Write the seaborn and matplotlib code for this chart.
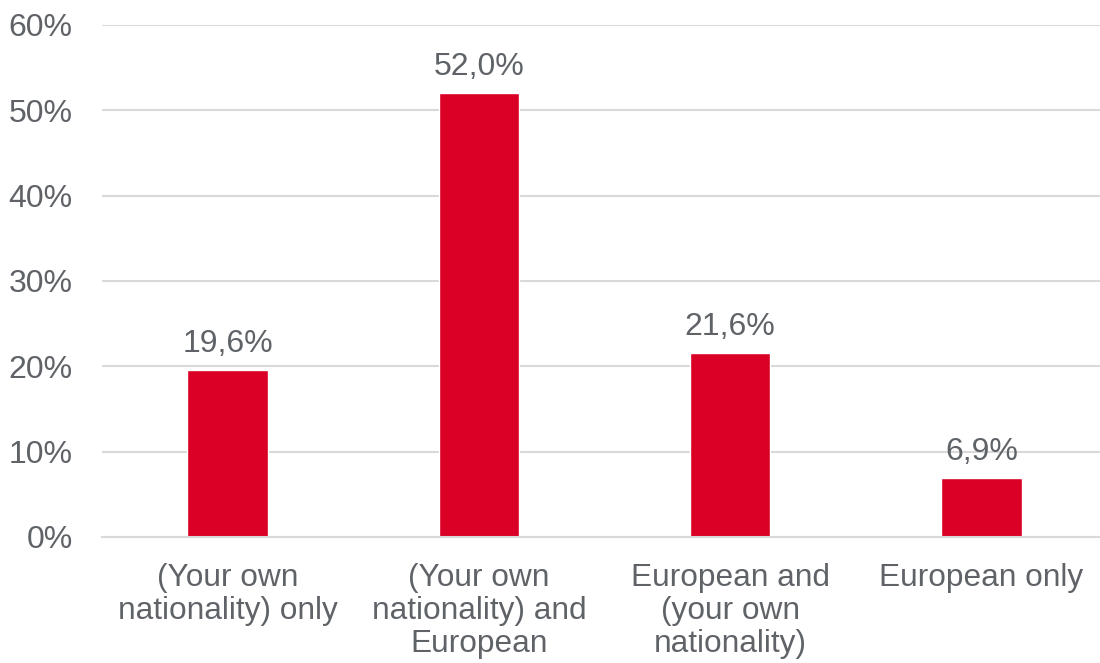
import matplotlib
matplotlib.use("Agg")
import matplotlib.pyplot as plt
import seaborn as sns
import pandas as pd
from matplotlib.ticker import FuncFormatter

categories = ["(Your own\nnationality) only", "(Your own\nnationality) and\nEuropean",
              "European and\n(your own\nnationality)", "European only"]
values = [19.6, 52.0, 21.6, 6.9]
yticks = [0, 10, 20, 30, 40, 50, 60]

sns.set_theme(style="white")
plt.rcParams['font.family'] = ['Liberation Sans', 'DejaVu Sans']

TXT = "#5f6368"
RED = "#da0026"

fig = plt.figure(figsize=(11, 6.63), dpi=100)
ax = fig.add_axes([102/1100, 1 - 537/663, 1 - 102/1100, (537 - 25)/663])

df = pd.DataFrame({"cat": categories, "val": values})
sns.barplot(data=df, x="cat", y="val", color=RED, saturation=1, width=0.32, ax=ax)

ax.set_ylim(0, 60)
ax.set_xlim(-0.5, 3.472)
ax.set_yticks(yticks)
ax.yaxis.set_major_formatter(FuncFormatter(lambda v, p: f"{v:.0f}%"))
ax.grid(axis="y", color="#d9d9d9", linewidth=1.5)
ax.set_axisbelow(True)
for s in ["top", "right", "left"]:
    ax.spines[s].set_visible(False)
ax.spines["bottom"].set_color("#d9d9d9")
ax.spines["bottom"].set_linewidth(1.5)
ax.set_xlabel("")
ax.set_ylabel("")
ax.tick_params(axis="y", length=0, pad=21, labelsize=23, labelcolor=TXT)
ax.tick_params(axis="x", length=0, pad=19, labelsize=22.8, labelcolor=TXT)
for lab in ax.get_xticklabels():
    lab.set_linespacing(1.12)

for i, v in enumerate(values):
    ax.annotate(f"{v:.1f}%".replace(".", ","), (i, v), xytext=(0, 8),
                textcoords="offset points", ha="center", va="bottom",
                fontsize=23, color=TXT)

fig.savefig("out.png", dpi=100)
